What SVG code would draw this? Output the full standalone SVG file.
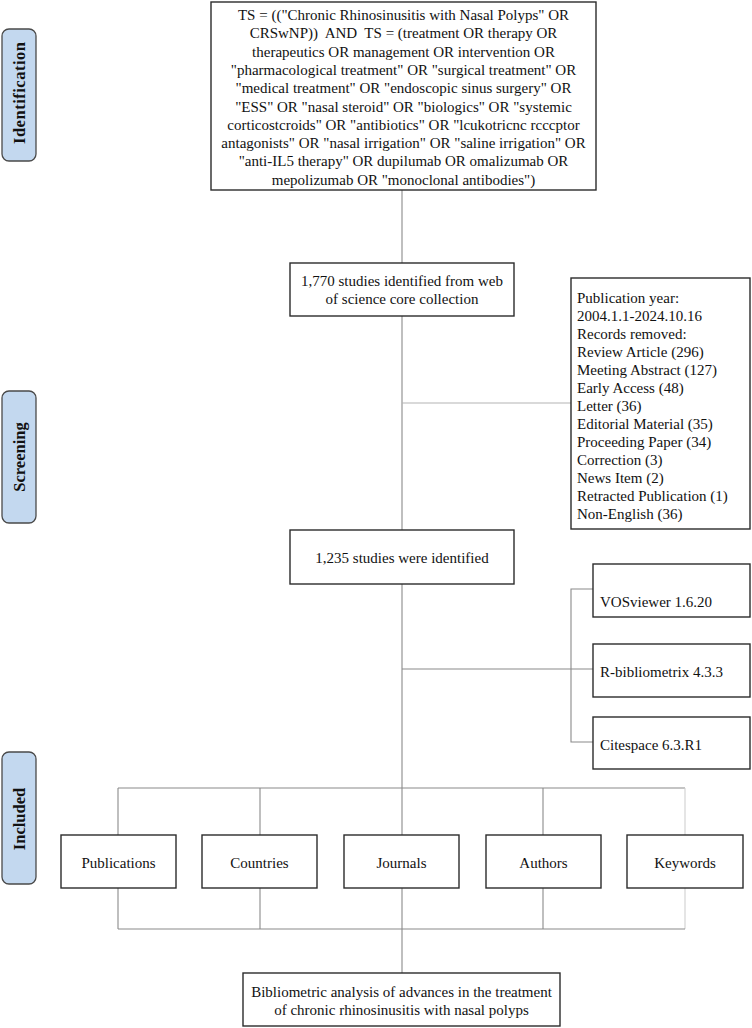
<svg xmlns="http://www.w3.org/2000/svg" width="752" height="1028" viewBox="0 0 752 1028">
<style>
.bg{fill:#ffffff}
.box{fill:#ffffff;stroke:#2b2b2b;stroke-width:1.4}
.pill{fill:#c3d8ef;stroke:#4a4a4a;stroke-width:1.3}
.t{font-family:"Liberation Serif","Times New Roman",serif;font-size:15px;fill:#111}
.c{text-anchor:middle}
.b{font-weight:bold;font-size:16.5px}
.ln{stroke:#8a8a8a;stroke-width:1.1;fill:none}
.lt{stroke:#b4b4b4;stroke-width:1.1;fill:none}
.lx{stroke:#cfcfcf;stroke-width:1.1;fill:none}
</style>
<rect class="bg" x="0" y="0" width="752" height="1028"/>
<g id="connectors">
<line class="ln" x1="402" y1="190" x2="402" y2="263"/>
<line class="ln" x1="402" y1="316" x2="402" y2="530"/>
<line class="lt" x1="402" y1="403" x2="571" y2="403"/>
<line class="ln" x1="402" y1="584" x2="402" y2="835"/>
<line class="ln" x1="402" y1="669" x2="593" y2="669"/>
<polyline class="ln" points="593,589 571,589 571,742 593,742"/>
<line class="ln" x1="118" y1="788" x2="685" y2="788"/>
<line class="ln" x1="118" y1="788" x2="118" y2="835"/>
<line class="ln" x1="260" y1="788" x2="260" y2="835"/>
<line class="ln" x1="543" y1="788" x2="543" y2="835"/>
<line class="lx" x1="685" y1="788" x2="685" y2="835"/>
<line class="ln" x1="118" y1="888" x2="118" y2="929"/>
<line class="ln" x1="260" y1="888" x2="260" y2="929"/>
<line class="ln" x1="402" y1="888" x2="402" y2="973"/>
<line class="ln" x1="543" y1="888" x2="543" y2="929"/>
<line class="lx" x1="685" y1="888" x2="685" y2="929"/>
<line class="ln" x1="118" y1="929" x2="685" y2="929"/>
</g>
<g id="stage-identification">
<rect class="pill" x="2" y="29" width="34" height="132" rx="7"/>
<text class="t c b" transform="translate(25,93) rotate(-90)" textLength="102" lengthAdjust="spacing">Identification</text>
</g>
<g id="stage-screening">
<rect class="pill" x="2" y="391" width="34" height="132" rx="7"/>
<text class="t c b" transform="translate(25,457) rotate(-90)">Screening</text>
</g>
<g id="stage-included">
<rect class="pill" x="2" y="752" width="34" height="132" rx="7"/>
<text class="t c b" transform="translate(25,819) rotate(-90)">Included</text>
</g>
<g id="query">
<rect class="box" x="211" y="2" width="385" height="188"/>
<text class="t c" x="403.5" y="20">TS = (("Chronic Rhinosinusitis with Nasal Polyps" OR</text>
<text class="t c" x="403.5" y="38.3">CRSwNP))&#160; AND&#160; TS = (treatment OR therapy OR</text>
<text class="t c" x="403.5" y="56.6">therapeutics OR management OR intervention OR</text>
<text class="t c" x="403.5" y="74.9">"pharmacological treatment" OR "surgical treatment" OR</text>
<text class="t c" x="403.5" y="93.2">"medical treatment" OR "endoscopic sinus surgery" OR</text>
<text class="t c" x="403.5" y="111.5">"ESS" OR "nasal steroid" OR "biologics" OR "systemic</text>
<text class="t c" x="403.5" y="129.8">corticostcroids" OR "antibiotics" OR "lcukotricnc rcccptor</text>
<text class="t c" x="403.5" y="148.1">antagonists" OR "nasal irrigation" OR "saline irrigation" OR</text>
<text class="t c" x="403.5" y="166.4">"anti-IL5 therapy" OR dupilumab OR omalizumab OR</text>
<text class="t c" x="403.5" y="184.7">mepolizumab OR "monoclonal antibodies")</text>
</g>
<g id="identified">
<rect class="box" x="290" y="263" width="224" height="53"/>
<text class="t c" x="402" y="286">1,770 studies identified from web</text>
<text class="t c" x="402" y="304">of science core collection</text>
</g>
<g id="removed">
<rect class="box" x="571" y="278" width="179" height="251"/>
<text class="t" x="577" y="303">Publication year:</text>
<text class="t" x="577" y="321">2004.1.1-2024.10.16</text>
<text class="t" x="577" y="339">Records removed:</text>
<text class="t" x="577" y="357">Review Article (296)</text>
<text class="t" x="577" y="375">Meeting Abstract (127)</text>
<text class="t" x="577" y="393">Early Access (48)</text>
<text class="t" x="577" y="411">Letter (36)</text>
<text class="t" x="577" y="429">Editorial Material (35)</text>
<text class="t" x="577" y="447">Proceeding Paper (34)</text>
<text class="t" x="577" y="465">Correction (3)</text>
<text class="t" x="577" y="483">News Item (2)</text>
<text class="t" x="577" y="501">Retracted Publication (1)</text>
<text class="t" x="577" y="519">Non-English (36)</text>
</g>
<g id="final-set">
<rect class="box" x="290" y="530" width="224" height="54"/>
<text class="t c" x="402" y="563">1,235 studies were identified</text>
</g>
<g id="tool-vosviewer">
<rect class="box" x="593" y="564" width="157" height="53"/>
<text class="t" x="600" y="607">VOSviewer 1.6.20</text>
</g>
<g id="tool-bibliometrix">
<rect class="box" x="593" y="644" width="157" height="53"/>
<text class="t" x="600" y="677">R-bibliometrix 4.3.3</text>
</g>
<g id="tool-citespace">
<rect class="box" x="593" y="717" width="157" height="52"/>
<text class="t" x="600" y="750">Citespace 6.3.R1</text>
</g>
<g id="publications">
<rect class="box" x="61" y="835" width="115" height="53"/>
<text class="t c" x="118.5" y="868">Publications</text>
</g>
<g id="countries">
<rect class="box" x="202" y="835" width="115" height="53"/>
<text class="t c" x="259.5" y="868">Countries</text>
</g>
<g id="journals">
<rect class="box" x="344" y="835" width="115" height="53"/>
<text class="t c" x="401.5" y="868">Journals</text>
</g>
<g id="authors">
<rect class="box" x="486" y="835" width="115" height="53"/>
<text class="t c" x="543.5" y="868">Authors</text>
</g>
<g id="keywords">
<rect class="box" x="627" y="835" width="116" height="53"/>
<text class="t c" x="685" y="868">Keywords</text>
</g>
<g id="result">
<rect class="box" x="243" y="973" width="317" height="53"/>
<text class="t c" x="401.5" y="997">Bibliometric analysis of advances in the treatment</text>
<text class="t c" x="401.5" y="1015">of chronic rhinosinusitis with nasal polyps</text>
</g>
</svg>
